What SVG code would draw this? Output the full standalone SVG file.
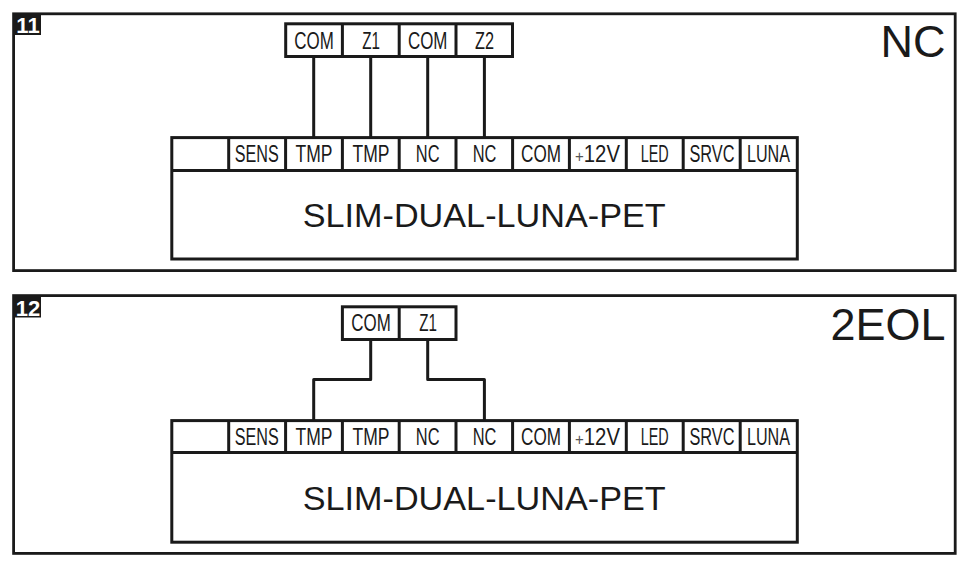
<svg xmlns="http://www.w3.org/2000/svg" width="967" height="570" viewBox="0 0 967 570">
<style>
.b{fill:#fff;stroke:#1a1a1a;stroke-width:3}
.p{fill:#fff;stroke:#1a1a1a;stroke-width:2.8}
.d{fill:none;stroke:#1a1a1a;stroke-width:3}
.w{fill:none;stroke:#1a1a1a;stroke-width:3;stroke-linejoin:round}
text{font-family:"Liberation Sans",Arial,sans-serif;fill:#1a1a1a}
.l{font-size:23px;text-anchor:middle}
.t{font-size:33.8px;text-anchor:middle}
.h{font-size:45px;text-anchor:end}
.n{font-size:22px;font-weight:bold;fill:#fff;text-anchor:middle}
.s{font-size:17px;fill:#555}
</style>
<rect width="967" height="570" fill="#fff"/>
<g id="panel-11">
<rect class="p" x="13.6" y="13.8" width="941.6" height="256.8"/>
<rect x="15" y="15" width="26" height="20" fill="#1a1a1a"/>
<text class="n" x="28" y="32.5">11</text>
<text class="h" x="945.5" y="57">NC</text>
</g>
<g id="panel-12">
<rect class="p" x="13.6" y="295.6" width="941.6" height="257.8"/>
<rect x="15" y="297" width="26" height="20.5" fill="#1a1a1a"/>
<text class="n" x="28" y="315.5">12</text>
<text class="h" x="945.5" y="339.5" textLength="115" lengthAdjust="spacingAndGlyphs">2EOL</text>
</g>
<g id="connectors">
<path class="w" d="M313.7 56V137.5M370.7 56V137.5M427.7 56V137.5M484.4 56V137.5"/>
<path class="w" d="M370.7 339V379.5H313.7V420.5M427.7 339V379.5H484.4V420.5"/>
</g>
<g id="terminal-top-11">
<rect class="b" x="285.7" y="23.8" width="226.8" height="32.7"/>
<path class="d" d="M342.4 23.8V56.5M399.2 23.8V56.5M456 23.8V56.5"/>
<text class="l" x="314" y="48.7" textLength="39.5" lengthAdjust="spacingAndGlyphs">COM</text>
<text class="l" x="371" y="48.7" textLength="17.7" lengthAdjust="spacingAndGlyphs">Z1</text>
<text class="l" x="427.7" y="48.7" textLength="39.5" lengthAdjust="spacingAndGlyphs">COM</text>
<text class="l" x="484.5" y="48.7" textLength="19" lengthAdjust="spacingAndGlyphs">Z2</text>
</g>
<g id="device-11">
<rect class="b" x="171.8" y="137.6" width="625.5" height="121.4"/>
<path class="d" d="M171.8 170.6H797.3M228.7 137.6V170.6M285.6 137.6V170.6M342.4 137.6V170.6M399.2 137.6V170.6M456 137.6V170.6M512.6 137.6V170.6M569.4 137.6V170.6M626.3 137.6V170.6M683.2 137.6V170.6M740.2 137.6V170.6"/>
<text class="l" x="256.7" y="162.3" textLength="44" lengthAdjust="spacingAndGlyphs">SENS</text>
<text class="l" x="314" y="162.3" textLength="37" lengthAdjust="spacingAndGlyphs">TMP</text>
<text class="l" x="371" y="162.3" textLength="37" lengthAdjust="spacingAndGlyphs">TMP</text>
<text class="l" x="427.7" y="162.3" textLength="23.7" lengthAdjust="spacingAndGlyphs">NC</text>
<text class="l" x="484.5" y="162.3" textLength="23.7" lengthAdjust="spacingAndGlyphs">NC</text>
<text class="l" x="541" y="162.3" textLength="40" lengthAdjust="spacingAndGlyphs">COM</text>
<text class="l" x="597.5" y="162.3" textLength="45" lengthAdjust="spacingAndGlyphs"><tspan class="s">+</tspan>12V</text>
<text class="l" x="654.7" y="162.3" textLength="28" lengthAdjust="spacingAndGlyphs">LED</text>
<text class="l" x="712" y="162.3" textLength="45" lengthAdjust="spacingAndGlyphs">SRVC</text>
<text class="l" x="768.5" y="162.3" textLength="43" lengthAdjust="spacingAndGlyphs">LUNA</text>
<text class="t" x="484.2" y="227.3" textLength="363" lengthAdjust="spacingAndGlyphs">SLIM-DUAL-LUNA-PET</text>
</g>
<g id="terminal-top-12">
<rect class="b" x="342.4" y="306.8" width="113.6" height="32.7"/>
<path class="d" d="M399.2 306.8V339.5"/>
<text class="l" x="371" y="331" textLength="39.5" lengthAdjust="spacingAndGlyphs">COM</text>
<text class="l" x="428" y="331" textLength="17.7" lengthAdjust="spacingAndGlyphs">Z1</text>
</g>
<g id="device-12">
<rect class="b" x="171.8" y="420.6" width="625.5" height="121.6"/>
<path class="d" d="M171.8 452.6H797.3M228.7 420.6V452.6M285.6 420.6V452.6M342.4 420.6V452.6M399.2 420.6V452.6M456 420.6V452.6M512.6 420.6V452.6M569.4 420.6V452.6M626.3 420.6V452.6M683.2 420.6V452.6M740.2 420.6V452.6"/>
<text class="l" x="256.7" y="445" textLength="44" lengthAdjust="spacingAndGlyphs">SENS</text>
<text class="l" x="314" y="445" textLength="37" lengthAdjust="spacingAndGlyphs">TMP</text>
<text class="l" x="371" y="445" textLength="37" lengthAdjust="spacingAndGlyphs">TMP</text>
<text class="l" x="427.7" y="445" textLength="23.7" lengthAdjust="spacingAndGlyphs">NC</text>
<text class="l" x="484.5" y="445" textLength="23.7" lengthAdjust="spacingAndGlyphs">NC</text>
<text class="l" x="541" y="445" textLength="40" lengthAdjust="spacingAndGlyphs">COM</text>
<text class="l" x="597.5" y="445" textLength="45" lengthAdjust="spacingAndGlyphs"><tspan class="s">+</tspan>12V</text>
<text class="l" x="654.7" y="445" textLength="28" lengthAdjust="spacingAndGlyphs">LED</text>
<text class="l" x="712" y="445" textLength="45" lengthAdjust="spacingAndGlyphs">SRVC</text>
<text class="l" x="768.5" y="445" textLength="43" lengthAdjust="spacingAndGlyphs">LUNA</text>
<text class="t" x="484.2" y="510" textLength="363" lengthAdjust="spacingAndGlyphs">SLIM-DUAL-LUNA-PET</text>
</g>
</svg>
